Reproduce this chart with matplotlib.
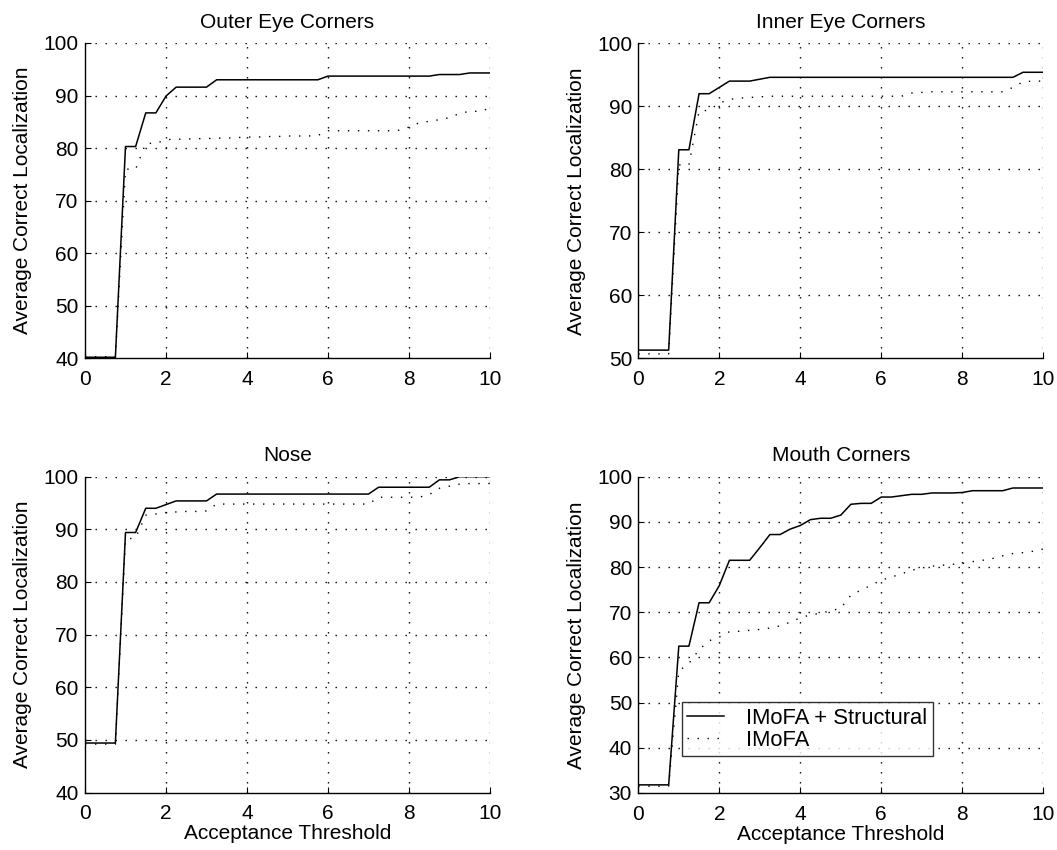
import numpy as np
import matplotlib
matplotlib.use("Agg")
import matplotlib.pyplot as plt

plt.rcParams['font.family'] = ['Liberation Sans', 'DejaVu Sans']
plt.rcParams['lines.scale_dashes'] = False

# Acceptance threshold sampled every 0.25
threshold = np.arange(0, 10.001, 0.25)

# Outer eye corners
outer_full = [40.2, 40.2, 40.2, 40.2, 80.3, 80.3, 86.7, 86.7, 89.9, 91.6, 91.6, 91.6, 91.6,
              93.0, 93.0, 93.0, 93.0, 93.0, 93.0, 93.0, 93.0, 93.0, 93.0, 93.0,
              93.7, 93.7, 93.7, 93.7, 93.7, 93.7, 93.7, 93.7, 93.7, 93.7, 93.7,
              94.0, 94.0, 94.0, 94.3, 94.3, 94.3]
outer_base = [40.3, 40.3, 40.3, 40.3, 76.0, 76.0, 80.9, 80.9, 81.6, 81.7, 81.7, 81.8, 81.8,
              81.9, 81.9, 82.0, 82.1, 82.1, 82.2, 82.2, 82.3, 82.3, 82.3, 82.4,
              83.3, 83.3, 83.3, 83.3, 83.3, 83.3, 83.3, 83.4,
              84.0, 84.8, 85.1, 85.4, 85.8, 86.6, 87.0, 87.0, 87.6]

# Inner eye corners
inner_full = [51.3, 51.3, 51.3, 51.3, 83.1, 83.1, 92.0, 92.0, 93.0, 94.0, 94.0, 94.0, 94.3,
              94.6, 94.6, 94.6, 94.6, 94.6, 94.6, 94.6, 94.6, 94.6, 94.6, 94.6, 94.6, 94.6,
              94.6, 94.6, 94.6, 94.6, 94.6, 94.6, 94.6, 94.6, 94.6, 94.6, 94.6, 94.6,
              95.4, 95.4, 95.4]
inner_base = [50.7, 50.7, 50.7, 50.7, 80.7, 80.7, 89.2, 89.4, 90.5, 91.1, 91.3, 91.4, 91.5,
              91.6, 91.6, 91.6, 91.6, 91.6, 91.6, 91.6, 91.6, 91.6, 91.6, 91.6, 91.6, 91.6, 91.6,
              92.1, 92.2, 92.3, 92.3, 92.3, 92.3, 92.3, 92.3, 92.3, 92.3,
              93.0, 93.9, 94.0, 94.0]

# Nose
nose_full = [49.4, 49.4, 49.4, 49.4, 89.4, 89.4, 94.0, 94.0, 94.7, 95.4, 95.4, 95.4, 95.4,
             96.7, 96.7, 96.7, 96.7, 96.7, 96.7, 96.7, 96.7, 96.7, 96.7, 96.7, 96.7, 96.7,
             96.7, 96.7, 96.7,
             98.0, 98.0, 98.0, 98.0, 98.0, 98.0, 99.4, 99.4, 100.0, 100.0, 100.0, 100.0]
nose_base = [49.2, 49.2, 49.2, 49.2, 88.1, 88.4, 92.7, 92.9, 93.2, 93.3, 93.4, 93.4, 93.5,
             94.8, 94.8, 94.8, 94.8, 94.8, 94.8, 94.8, 94.8, 94.8, 94.8, 94.8, 94.8, 94.8,
             94.8, 94.8, 94.8,
             96.1, 96.1, 96.1, 96.1, 96.1, 96.6, 97.8, 98.2, 98.6, 98.7, 98.7, 98.7]

# Mouth corners
mouth_full = [31.8, 31.8, 31.8, 31.8, 62.5, 62.5, 72.1, 72.1, 75.9, 81.5, 81.5, 81.5, 84.3,
              87.2, 87.2, 88.4, 89.2, 90.5, 90.8, 90.8, 91.5, 93.9, 94.1, 94.1, 95.5, 95.5,
              95.8, 96.1, 96.1, 96.4, 96.4, 96.4, 96.5, 96.9, 96.9, 96.9, 96.9,
              97.5, 97.5, 97.5, 97.5]
mouth_base = [31.5, 31.5, 31.5, 31.5, 57.0, 58.7, 61.7, 63.7, 64.5, 65.7, 65.8, 66.0, 66.2,
              66.5, 67.0, 67.8, 68.8, 69.4, 69.8, 70.3, 70.9, 73.8, 74.9, 76.0, 77.1, 77.8,
              78.5, 79.3, 79.8, 80.2, 80.4, 80.6, 80.8, 81.2, 81.5, 81.9, 82.5, 83.0, 83.2,
              83.5, 84.0]

titles = ["Outer Eye Corners", "Inner Eye Corners", "Nose", "Mouth Corners"]
full_series = [outer_full, inner_full, nose_full, mouth_full]
base_series = [outer_base, inner_base, nose_base, mouth_base]
y_limits = [(40, 100), (50, 100), (40, 100), (30, 100)]
x_ticks = [0, 2, 4, 6, 8, 10]

W, H = 1057, 850
fig = plt.figure(figsize=(W / 100, H / 100), dpi=100)

# axes rectangles in pixels: left, top, right, bottom
rects = [(85, 43, 490, 358.3), (638.3, 43.3, 1043.3, 358.3),
         (85, 476.7, 490, 792.5), (638.3, 476.7, 1043.3, 793)]

FS = 15
dot_style = (0, (1.0, 6.2))

axes = []
for i, (l, t, r, b) in enumerate(rects):
    ax = fig.add_axes([l / W, 1 - b / H, (r - l) / W, (b - t) / H])
    axes.append(ax)
    ymin, ymax = y_limits[i]
    ax.set_xlim(0, 10)
    ax.set_ylim(ymin, ymax)
    ax.set_xticks(x_ticks)
    ax.set_yticks(np.arange(ymin, ymax + 1, 10))

    # dotted grid, including the top and right edges
    for xv in x_ticks[1:]:
        ax.axvline(xv, color='k', lw=1.0, linestyle=dot_style, zorder=1)
    for yv in np.arange(ymin + 10, ymax + 1, 10):
        ax.axhline(yv, color='k', lw=1.0, linestyle=dot_style, zorder=1)

    ax.plot(threshold, full_series[i], color='k', lw=1.1, label='IMoFA + Structural', zorder=3)
    ax.plot(threshold, base_series[i], color='k', lw=1.0, linestyle=(0, (1.0, 6.2)),
            label='IMoFA', zorder=2)

    for s in ['top', 'right']:
        ax.spines[s].set_visible(False)
    for s in ['left', 'bottom']:
        ax.spines[s].set_linewidth(1.0)
        ax.spines[s].set_zorder(4)

    ax.tick_params(direction='in', length=4, width=0.8, labelsize=FS, pad=8.5,
                   top=False, right=False)
    ax.tick_params(axis='y', pad=4.5)
    ax.set_title(titles[i], fontsize=FS, pad=11)
    ax.set_ylabel("Average Correct Localization", fontsize=FS)
    ax.yaxis.set_label_coords(-0.13, 0.5)
    if i >= 2:
        ax.set_xlabel("Acceptance Threshold", fontsize=FS)
        ax.xaxis.set_label_coords(0.5, -0.1)

leg = axes[3].legend(loc='upper left', bbox_to_anchor=(0.107, 0.287), borderaxespad=0,
                     fontsize=15.8, frameon=True, fancybox=False, handlelength=1.7,
                     handletextpad=1.0, labelspacing=0.05, borderpad=0.25)
leg.get_frame().set_edgecolor('k')
leg.get_frame().set_linewidth(1.0)

fig.savefig("out.png", dpi=100)
